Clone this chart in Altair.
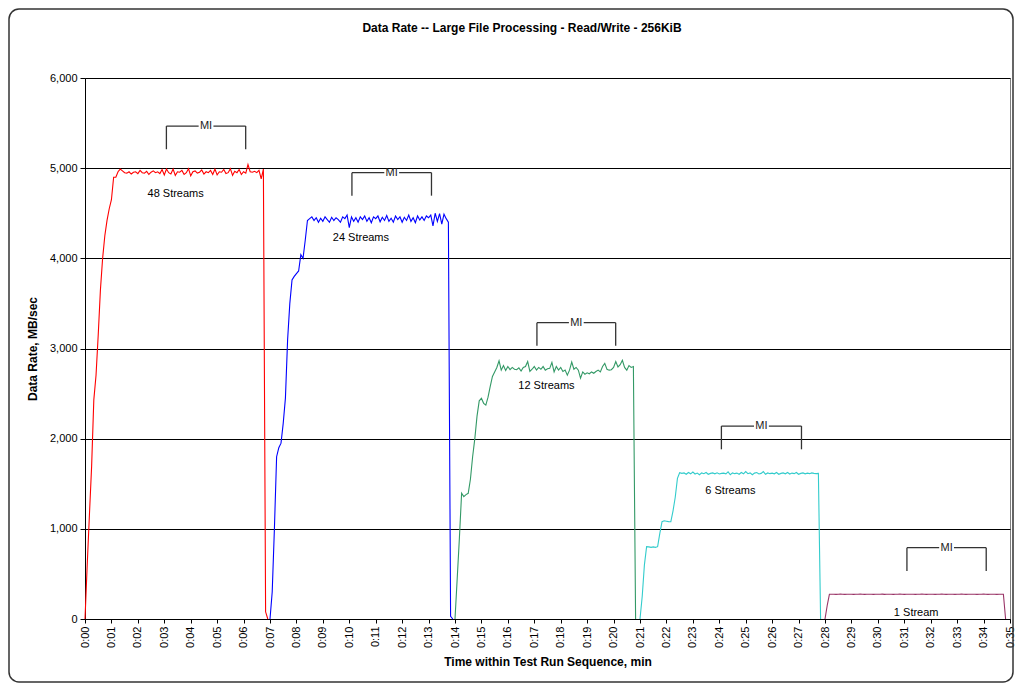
import altair as alt
import pandas as pd

FONT = "Liberation Sans"
STEP_MIN = 5 / 60  # one sample every 5 seconds

chart_title = "Data Rate -- Large File Processing - Read/Write - 256KiB"
series_names = ["48 Streams", "24 Streams", "12 Streams", "6 Streams", "1 Stream"]
series_colors = ["#FF0000", "#0000FF", "#339966", "#33CCCC", "#993366"]
series_start = [0.0, 7.0, 14.0, 21.0, 28.0]

red = [0, 600, 1150, 1690, 2430, 2700, 3150, 3650, 4000, 4250, 4420, 4550, 4650, 4900, 4900, 4960, 4990,
       4970, 4950, 4945, 4960, 4935, 4955, 4960, 4940, 4975, 4950,
       4945, 4965, 4930, 4955, 4970, 4950, 4960, 4940, 4985, 4925,
       4990, 4950, 4935, 4990, 4920, 4960, 4955, 4975, 4930, 4950,
       4995, 4915, 4960, 4970, 4945, 4955, 4980, 4935, 4960, 4950,
       4975, 4930, 4990, 4925, 4960, 4955, 4985, 4940, 4950, 4995,
       4920, 4965, 4950, 4985, 4930, 4960, 4945, 5040, 4960, 4955,
       4965, 4950, 4975, 4880,
       4990, 80, 0]

blue = [0, 300, 1000, 1800, 1900, 1950, 2170, 2450, 3100, 3500, 3760, 3800, 3830, 3860, 4040, 4000, 4200, 4420, 4440,
        4460, 4420, 4450, 4400, 4445, 4410, 4460, 4430, 4400, 4455,
        4420, 4450, 4430, 4400, 4460, 4440, 4480, 4340, 4460, 4410,
        4450, 4400, 4460, 4430, 4470, 4410, 4450, 4395, 4460, 4440,
        4470, 4405, 4455, 4420, 4475, 4410, 4445, 4400, 4470, 4430,
        4460, 4400, 4455, 4420, 4480, 4410, 4450, 4395, 4470, 4425,
        4460, 4420, 4470, 4450, 4480, 4360, 4500, 4410, 4495, 4380,
        4490, 4440,
        4400, 30, 0]

green = [0, 450, 900, 1394, 1357, 1380, 1394, 1550, 1800, 2000, 2250, 2420, 2448, 2392, 2373, 2460, 2580, 2690, 2740, 2790, 2864,
         2760, 2810, 2755, 2800, 2765, 2790, 2770, 2765, 2785, 2750,
         2790, 2800, 2855, 2745, 2770, 2800, 2760, 2790, 2770, 2800,
         2760, 2775, 2780, 2845, 2740, 2800, 2760, 2790, 2745, 2760,
         2705, 2760, 2850, 2770, 2790, 2760, 2670, 2740, 2715, 2730,
         2720, 2740, 2725, 2745, 2760, 2740, 2800, 2835, 2770, 2760,
         2765, 2790, 2855, 2795, 2820, 2870, 2790, 2760, 2810, 2790,
         2800,
         0]

cyan = [0, 250, 600, 802, 800, 795, 800, 795, 802, 950, 1079, 1090, 1085, 1080, 1079, 1200, 1350, 1560, 1622,
        1615, 1620, 1605, 1625, 1610, 1630, 1608, 1618, 1600, 1620,
        1612, 1625, 1605, 1615, 1620, 1610, 1622, 1608, 1615, 1618,
        1610, 1632, 1600, 1620, 1612, 1618, 1605, 1625, 1610, 1635,
        1612, 1620, 1600, 1618, 1625, 1608, 1615, 1635, 1605, 1620,
        1612, 1618, 1610, 1625, 1605, 1615, 1620, 1610, 1625, 1608,
        1618, 1612, 1625, 1605, 1615, 1620, 1610, 1618, 1612, 1620,
        1615, 1612, 1615,
        0]

purple = [0, 150, 274,
          274, 275, 273, 274, 276, 274, 273, 275, 274, 274,
          273, 275, 274, 276, 274, 273, 274, 275, 274, 273,
          275, 274, 274, 276, 273, 274, 275, 274, 273, 275,
          274, 276, 274, 273, 274, 275, 274, 274, 273, 275,
          274, 276, 274, 273, 275, 274, 274, 273, 275, 274,
          276, 274, 273, 274, 275, 274, 273, 275, 274, 276,
          274, 273, 274, 275, 274, 274, 273, 275, 274, 276,
          274, 273, 275, 274, 274, 273, 275, 274, 274,
          0]

series_values = [red, blue, green, cyan, purple]

# measurement-interval ("MI") brackets
mi_start = [3.08, 10.10, 17.10, 24.08, 31.10]
mi_end = [6.08, 13.11, 20.08, 27.11, 34.10]
mi_top = [5467, 4950, 3286, 2140, 791]
mi_bottom = [5210, 4695, 3031, 1882, 532]
mi_gap = 0.28

# stream labels
label_t = [3.43, 10.44, 17.46, 24.42, 31.45]
label_v = [4710, 4222, 2584, 1423, 67]

x_ticks = list(range(0, 36))
y_ticks = [0, 1000, 2000, 3000, 4000, 5000, 6000]

rows = []
for name, start, vals in zip(series_names, series_start, series_values):
    for i, v in enumerate(vals):
        rows.append({"series": name, "t": start + i * STEP_MIN, "v": v, "i": i})
df = pd.DataFrame(rows)

seg = []
for s, e, top, bot in zip(mi_start, mi_end, mi_top, mi_bottom):
    mid = (s + e) / 2
    seg.append({"t": s, "t2": s, "v": bot, "v2": top})
    seg.append({"t": e, "t2": e, "v": bot, "v2": top})
    seg.append({"t": s, "t2": mid - mi_gap, "v": top, "v2": top})
    seg.append({"t": mid + mi_gap, "t2": e, "v": top, "v2": top})
seg_df = pd.DataFrame(seg)
mi_text_df = pd.DataFrame({"t": [(s + e) / 2 for s, e in zip(mi_start, mi_end)],
                           "v": mi_top, "txt": ["MI"] * 5})
lab_df = pd.DataFrame({"t": label_t, "v": label_v, "txt": series_names})

W, H = 925, 541

xscale = alt.Scale(domain=[0, 35], nice=False, zero=False)
yscale = alt.Scale(domain=[0, 6000], nice=False)

x_axis = alt.Axis(
    values=x_ticks,
    labelExpr="'0:' + (datum.value < 10 ? '0' : '') + datum.value",
    labelAngle=270, labelFont=FONT, labelFontSize=11, labelColor="black",
    labelOverlap=False, labelFlush=False, labelBound=False,
    labelPadding=3, tickSize=4, tickColor="black", domainColor="black",
    grid=False, title="Time within Test Run Sequence, min",
    titleFont=FONT, titleFontSize=12, titleFontWeight="bold", titleColor="black",
    titlePadding=9,
)
y_axis = alt.Axis(
    values=y_ticks, format=",.0f", labelFont=FONT, labelFontSize=11, labelColor="black",
    labelOverlap=False, labelFlush=False,
    labelPadding=3, tickSize=5, tickColor="black", domainColor="black",
    grid=True, gridColor="black", gridWidth=1, gridOpacity=1,
    title="Data Rate, MB/sec", titleFont=FONT, titleFontSize=12,
    titleFontWeight="bold", titleColor="black", titlePadding=10,
)

X = alt.X("t:Q", scale=xscale, axis=x_axis)
Y = alt.Y("v:Q", scale=yscale, axis=y_axis)

lines = alt.Chart(df).mark_line(strokeWidth=1.1).encode(
    x=X, y=Y,
    color=alt.Color("series:N", scale=alt.Scale(domain=series_names, range=series_colors), legend=None),
    detail="series:N",
    order="i:Q",
)

brackets = alt.Chart(seg_df).mark_rule(color="#333333", strokeWidth=1.3).encode(
    x=X, x2="t2:Q", y=Y, y2="v2:Q"
)

mi_text = alt.Chart(mi_text_df).mark_text(
    font=FONT, fontSize=11, color="#222222", baseline="middle", align="center"
).encode(x=X, y=Y, text="txt:N")

labels = alt.Chart(lab_df).mark_text(
    font=FONT, fontSize=11, color="black", baseline="middle", align="center"
).encode(x=X, y=Y, text="txt:N")

frame = alt.Chart(pd.DataFrame({"k": [0]})).mark_rect(
    fillOpacity=0, stroke="#333333", strokeWidth=1.5, cornerRadius=10
).encode(
    x=alt.value(-76), x2=alt.value(W + 3), y=alt.value(-69), y2=alt.value(H + 63)
)

title_mark = alt.Chart(pd.DataFrame({"txt": [chart_title]})).mark_text(
    font=FONT, fontSize=12, fontWeight="bold", color="black",
    align="center", baseline="middle"
).encode(x=alt.value(437), y=alt.value(-50), text="txt:N")

chart = alt.layer(lines, brackets, mi_text, labels, frame, title_mark).properties(
    width=W, height=H,
    background="white",
    autosize=alt.AutoSizeParams(type="none"),
    padding={"left": 77, "top": 70, "right": 5, "bottom": 64},
).configure_view(stroke="#808080", strokeWidth=1).configure_axisX(
    labelOverlap=False, labelSeparation=0
)

chart.save("out.html", embed_options={"renderer": "svg", "actions": False})
